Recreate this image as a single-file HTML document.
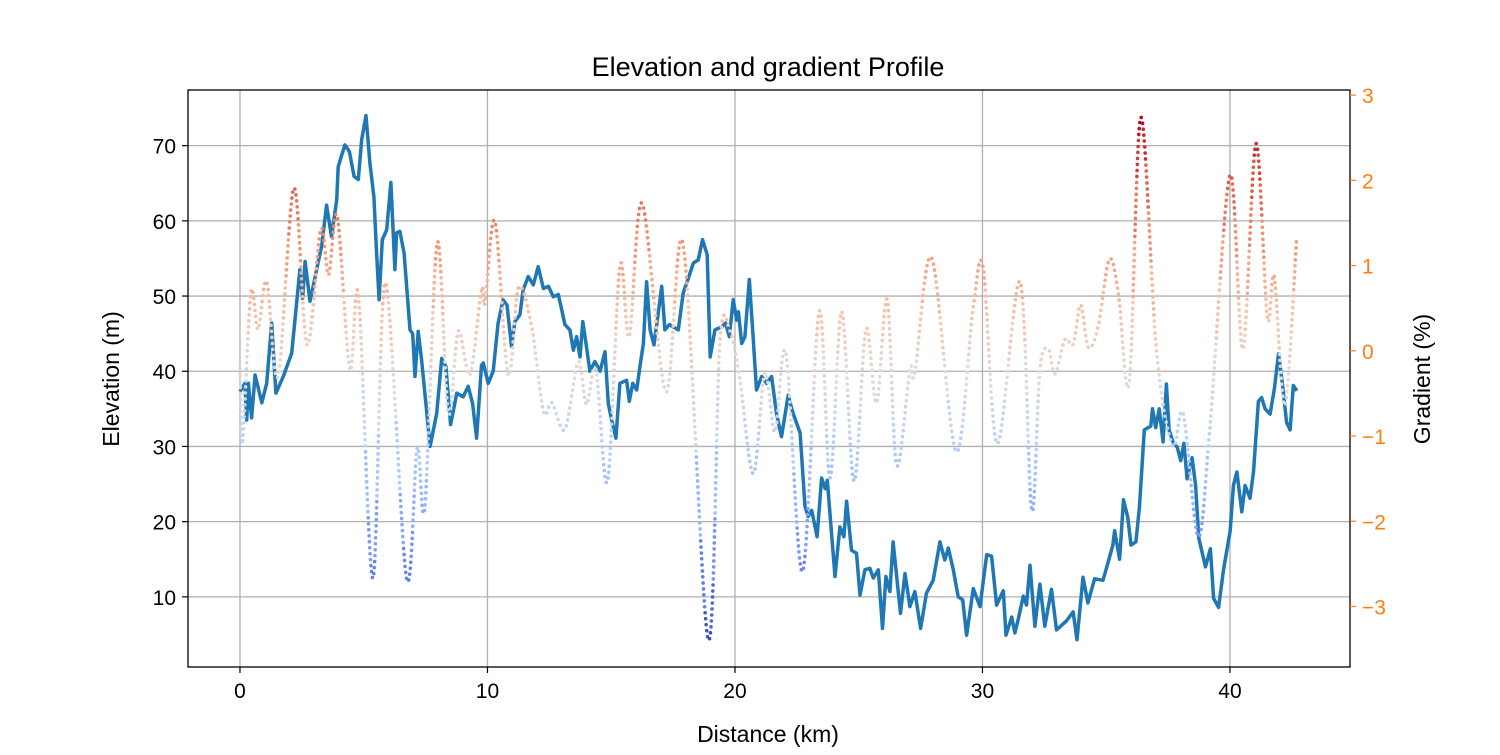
<!DOCTYPE html>
<html><head><meta charset="utf-8"><style>
html,body{margin:0;padding:0;background:#fff;}
svg text{font-family:"Liberation Sans",sans-serif;}
</style></head><body>
<svg id="chart" width="1500" height="750" viewBox="0 0 1500 750">
<rect width="1500" height="750" fill="#fff"/>
<text x="768" y="76" font-size="27" text-anchor="middle" fill="#000">Elevation and gradient Profile</text>
<g id="grid"></g>
<g id="elev"></g>
<g id="grad"></g>
<rect x="188" y="90" width="1162" height="577" fill="none" stroke="#000" stroke-width="1.3"/>
<g id="axes"></g>
<text x="768" y="742" font-size="23" text-anchor="middle">Distance (km)</text>
<text transform="translate(119,379) rotate(-90)" font-size="23" text-anchor="middle">Elevation (m)</text>
<text transform="translate(1430,379) rotate(-90)" font-size="23" text-anchor="middle">Gradient (%)</text>
</svg>
<script>
const xTicks=[0,10,20,30,40];
const yTicks=[10,20,30,40,50,60,70];
const y2Ticks=[3,2,1,0,-1,-2,-3];
const elevDist=[0,0.2,0.27,0.34,0.47,0.61,0.88,1.08,1.28,1.45,1.75,2.09,2.42,2.53,2.63,2.83,2.96,3.12,3.3,3.5,3.7,3.91,3.97,4.24,4.42,4.61,4.78,4.92,5.09,5.25,5.41,5.52,5.62,5.75,5.93,6.1,6.26,6.33,6.46,6.63,6.87,6.98,7.07,7.2,7.34,7.68,7.95,8.15,8.32,8.51,8.76,9.02,9.22,9.4,9.56,9.76,9.83,10.03,10.23,10.43,10.63,10.79,10.97,11.11,11.31,11.44,11.65,11.85,12.05,12.26,12.46,12.66,12.86,13.0,13.13,13.33,13.47,13.6,13.74,13.85,13.98,14.14,14.34,14.55,14.75,14.88,15.02,15.19,15.35,15.62,15.73,15.87,16.03,16.16,16.3,16.43,16.57,16.73,16.9,17.04,17.17,17.35,17.51,17.71,17.91,18.12,18.32,18.52,18.69,18.88,19.0,19.19,19.46,19.62,19.77,19.93,20.07,20.14,20.27,20.4,20.58,20.74,20.87,21.08,21.28,21.48,21.68,21.88,22.15,22.35,22.63,22.83,22.96,23.1,23.32,23.5,23.64,23.73,24.04,24.24,24.4,24.51,24.71,24.91,25.05,25.25,25.45,25.59,25.79,25.96,26.1,26.26,26.39,26.69,26.87,27.07,27.27,27.5,27.74,28.01,28.28,28.48,28.62,28.82,29.02,29.2,29.36,29.63,29.9,30.17,30.37,30.57,30.7,30.84,30.95,31.18,31.31,31.45,31.65,31.78,31.92,32.12,32.32,32.52,32.79,32.99,33.39,33.66,33.82,34.06,34.26,34.53,34.87,35.07,35.27,35.34,35.54,35.7,35.87,36.0,36.2,36.34,36.54,36.8,36.87,37.0,37.14,37.3,37.43,37.54,37.7,37.87,38.01,38.14,38.27,38.47,38.61,38.74,39.01,39.21,39.34,39.54,39.74,40.01,40.14,40.28,40.48,40.61,40.81,40.95,41.15,41.28,41.42,41.62,41.8,41.96,42.12,42.29,42.43,42.56,42.7];
const elevVal=[37.3,38.4,33.5,38.4,33.8,39.5,35.8,38.4,46.4,37.1,39.3,42.4,53.5,49.7,54.6,49.3,51.3,53.9,56.6,62.1,57.9,62.8,67.2,70.1,69.2,65.9,65.5,70.8,74.0,67.7,63.2,55.7,49.5,57.5,58.8,65.1,53.5,58.4,58.6,55.7,45.5,45.0,39.3,45.3,41.5,30.0,34.4,41.7,40.6,32.9,37.1,36.6,38.0,35.7,31.1,40.8,41.1,38.4,40.0,46.4,49.5,48.8,43.3,46.6,47.5,50.8,52.6,51.5,53.9,51.0,51.3,49.9,50.2,48.2,46.2,45.5,42.8,44.6,41.9,46.6,43.7,40.0,41.3,40.0,42.6,35.7,33.5,31.1,38.4,38.8,36.0,38.4,37.5,40.6,43.7,51.9,45.5,43.5,47.7,51.3,45.5,46.2,45.9,45.5,50.4,52.4,54.4,54.8,57.5,55.5,41.9,45.5,45.9,46.4,44.6,49.5,46.8,47.9,43.7,44.6,52.2,44.2,37.5,39.3,38.4,39.3,34.4,31.3,36.8,34.4,31.8,22.0,20.7,21.5,18.0,25.8,24.4,25.5,12.7,19.3,18.0,22.7,16.2,15.8,10.2,13.6,13.8,12.5,13.6,5.8,12.7,10.7,17.3,7.8,13.1,8.7,10.7,5.8,10.5,12.2,17.3,14.9,16.5,13.6,10.0,9.6,4.9,11.1,8.7,15.6,15.4,8.9,9.8,10.8,4.9,7.3,5.2,7.1,10.1,8.9,14.2,6.1,11.7,6.1,11.0,5.6,6.8,8.0,4.3,12.6,9.2,12.4,12.2,14.5,16.9,18.8,15.0,22.9,20.6,16.9,17.3,21.9,32.2,32.7,35.0,32.5,35.0,30.6,38.3,32.2,30.6,29.9,28.1,30.4,25.7,28.5,24.8,17.8,14.0,16.4,9.8,8.6,13.6,18.8,24.8,26.6,21.3,24.8,23.1,26.6,36.0,36.5,35.0,34.3,37.8,42.3,38.3,33.2,32.2,38.1,37.4];
const gradDist=[0,0.1,0.44,0.73,1.08,1.54,2.18,2.71,3.26,3.58,3.93,4.44,4.79,5.37,5.87,6.73,7.16,7.47,7.97,8.42,8.82,9.29,9.76,9.9,10.3,10.84,11.25,11.78,12.26,12.6,13.13,13.67,14.0,14.38,14.85,15.35,15.73,16.25,17.21,17.91,18.92,19.39,19.8,20.2,20.74,21.21,21.62,22.06,22.73,23.4,23.84,24.31,24.81,25.29,25.72,26.15,26.53,27.07,27.27,27.95,28.93,29.63,30.03,30.6,31.52,31.99,32.32,32.66,32.93,33.33,33.67,33.97,34.28,34.68,35.12,35.49,35.93,36.4,37.04,37.68,38.11,38.72,39.19,40.0,40.52,41.05,41.51,41.79,42.22,42.69];
const gradVal=[-0.15,-1.08,0.68,0.25,0.81,-0.3,1.91,0.07,1.42,0.89,1.58,-0.22,0.64,-2.67,0.8,-2.67,-1.14,-1.83,1.27,-0.73,0.23,-0.28,0.72,0.56,1.52,-0.28,0.74,0.29,-0.71,-0.61,-0.92,-0.13,-0.63,-0.22,-1.53,0.99,0.17,1.73,-0.48,1.24,-3.39,0.09,0.23,-0.34,-1.44,-0.26,-0.95,-0.03,-2.59,0.46,-1.49,0.46,-1.53,0.25,-0.61,0.6,-1.34,-0.22,-0.26,1.09,-1.18,0.52,0.97,-1.09,0.81,-1.87,-0.22,0.02,-0.27,0.13,0.08,0.54,0.04,0.29,1.07,0.68,-0.37,2.74,-0.02,-1.11,-0.74,-2.18,-0.9,2.06,0.02,2.43,0.39,0.87,-0.64,1.3];

const NS='http://www.w3.org/2000/svg';
const X0=188,X1=1350,Y0=90,Y1=667;
const xMin=-2.1,xMax=44.85,yMin=0.67,yMax=77.4,g2Min=-3.71,g2Max=3.06;
const sx=v=>X0+(v-xMin)/(xMax-xMin)*(X1-X0);
const sy=v=>Y1-(v-yMin)/(yMax-yMin)*(Y1-Y0);
const sy2=v=>Y1-(v-g2Min)/(g2Max-g2Min)*(Y1-Y0);
function mk(tag,attrs,parent){const e=document.createElementNS(NS,tag);for(const k in attrs)e.setAttribute(k,attrs[k]);parent.appendChild(e);return e;}
const grid=document.getElementById('grid'),axes=document.getElementById('axes');
xTicks.forEach(t=>{
  const gl=mk('line',{x1:sx(t),x2:sx(t),y1:Y0,y2:Y1,stroke:'#b0b0b0','stroke-width':1.3},grid);
  
  
  const tk=mk('line',{x1:sx(t),x2:sx(t),y1:Y1,y2:Y1+6,stroke:'#000','stroke-width':1.2},axes);
  
  
  const tx=mk('text',{x:sx(t),y:Y1+31,'font-size':21,'text-anchor':'middle'},axes);tx.textContent=t;
  
  
});
yTicks.forEach(t=>{
  const gl=mk('line',{x1:X0,x2:X1,y1:sy(t),y2:sy(t),stroke:'#b0b0b0','stroke-width':1.3},grid);
  
  
  const tk=mk('line',{x1:X0-6,x2:X0,y1:sy(t),y2:sy(t),stroke:'#000','stroke-width':1.2},axes);
  
  
  const tx=mk('text',{x:X0-12,y:sy(t)+8,'font-size':21,'text-anchor':'end'},axes);tx.textContent=t;
  
  
});
y2Ticks.forEach(t=>{
  const tk=mk('line',{x1:X1,x2:X1+6,y1:sy2(t),y2:sy2(t),stroke:'#ff7f0e','stroke-width':1.2},axes);
  
  
  const tx=mk('text',{x:X1+12,y:sy2(t)+8,'font-size':21,fill:'#ff7f0e'},axes);tx.textContent=(t<0?'\u2212'+(-t):t);
  
  
});
const ep=mk('polyline',{points:elevDist.map((d,i)=>sx(d).toFixed(1)+','+sy(elevVal[i]).toFixed(1)).join(' '),fill:'none',stroke:'#1f77b4','stroke-width':3.5,'stroke-linejoin':'round'},document.getElementById('elev'));


const cw=[[59,76,192],[98,130,234],[141,176,254],[184,208,249],[221,220,220],[245,196,173],[244,154,123],[222,96,77],[180,4,38]];
function cmap(v){const gmin=Math.min(...gradVal),gmax=Math.max(...gradVal);let t=(v-gmin)/(gmax-gmin);t=Math.max(0,Math.min(1,t))*8;const i=Math.min(7,Math.floor(t)),f=t-i;const a=cw[i],b=cw[i+1];return 'rgb('+a.map((c,k)=>Math.round(c+(b[k]-c)*f)).join(',')+')';}
const gg=document.getElementById('grad');
const P=gradDist.map((d,i)=>[sx(d),sy2(gradVal[i])]);
const GAP=6;
let acc=0;
for(let i=0;i<P.length-1;i++){
  const p0=P[Math.max(0,i-1)],p1=P[i],p2=P[i+1],p3=P[Math.min(P.length-1,i+2)];
  const c1=[p1[0]+(p2[0]-p0[0])/6,p1[1]+(p2[1]-p0[1])/6],c2=[p2[0]-(p3[0]-p1[0])/6,p2[1]-(p3[1]-p1[1])/6];
  const N=6;
  const bz=t=>{const u=1-t;return [u*u*u*p1[0]+3*u*u*t*c1[0]+3*u*t*t*c2[0]+t*t*t*p2[0],u*u*u*p1[1]+3*u*u*t*c1[1]+3*u*t*t*c2[1]+t*t*t*p2[1]];};
  for(let k=0;k<N;k++){
    const a=bz(k/N),b=bz((k+1)/N),m=bz((k+0.5)/N);
    const val=g2Min+(Y1-m[1])/(Y1-Y0)*(g2Max-g2Min);
    const seg=mk('path',{d:'M'+a[0].toFixed(2)+','+a[1].toFixed(2)+'Q'+(2*m[0]-(a[0]+b[0])/2).toFixed(2)+','+(2*m[1]-(a[1]+b[1])/2).toFixed(2)+' '+b[0].toFixed(2)+','+b[1].toFixed(2),fill:'none',stroke:cmap(val),'stroke-width':3.6,'stroke-linecap':'round','stroke-dasharray':'0 '+GAP},gg);
    
    
    const off=(GAP-(acc%GAP))%GAP;
    seg.setAttribute('stroke-dashoffset',(-off).toFixed(2));
    acc+=seg.getTotalLength();
  }
}
</script>
</body></html>
